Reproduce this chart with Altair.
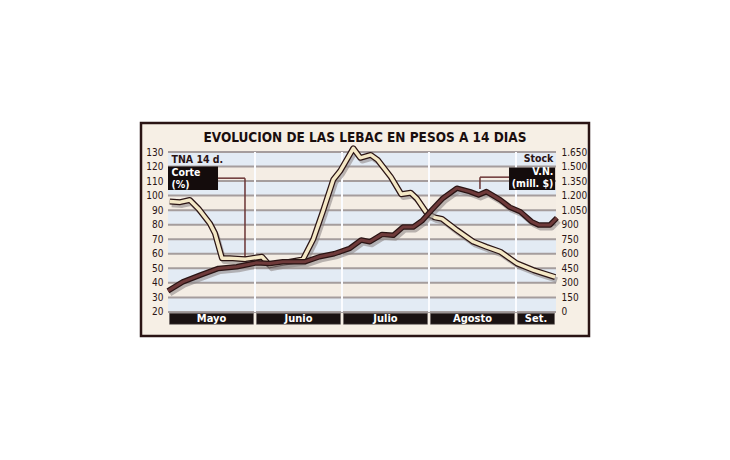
import altair as alt
import pandas as pd

# months along the bottom (x is measured in months from 1 May)
months = ["Mayo", "Junio", "Julio", "Agosto", "Set."]
month_start = [0, 1, 2, 3, 4]
month_end = [1, 2, 3, 4, 4.46]

# TNA 14 d. corte (%) - left axis
tna_x = [0.02, 0.14, 0.25, 0.35, 0.48, 0.54, 0.62, 0.71, 0.89, 1.08, 1.17, 1.29,
         1.55, 1.67, 1.78, 1.90, 1.98, 2.13, 2.21, 2.33, 2.41, 2.56, 2.68, 2.79,
         2.86, 2.98, 3.07, 3.15, 3.32, 3.51, 3.66, 3.82, 4.01, 4.20, 4.45]
tna_y = [96, 95.5, 97, 91, 81, 74, 57, 57, 56.3, 58, 52, 53.4,
         56, 70, 89, 111, 117, 132.5, 126, 128, 124.6, 113, 101, 102,
         98, 87.5, 85, 84, 76.3, 68.3, 64.8, 61.4, 53.4, 48.8, 44]

# Stock V.N. (mill. $) - right axis
stock_x = [0.0, 0.17, 0.37, 0.58, 0.79, 1.02, 1.17, 1.32, 1.57, 1.74, 1.91, 2.09,
           2.22, 2.32, 2.46, 2.59, 2.70, 2.82, 2.92, 3.03, 3.16, 3.32, 3.47, 3.57,
           3.66, 3.82, 3.93, 4.05, 4.18, 4.26, 4.39, 4.47]
stock_y = [217, 310, 380, 449, 466, 507, 500, 517, 517, 569, 600, 656,
           742, 724, 800, 790, 876, 876, 940, 1050, 1173, 1277, 1241, 1207,
           1241, 1156, 1080, 1034, 931, 897, 897, 970]

left_ticks = list(range(20, 140, 10))
right_ticks = list(range(0, 1800, 150))

W, H = 388, 173
X_END = 4.46
FONT = "Liberation Sans Narrow, DejaVu Sans Condensed, Liberation Sans, sans-serif"
DARK = "#2a1414"
CREAM = "#f6efe5"

xs = alt.Scale(domain=[0, X_END], nice=False, zero=False)
ys = alt.Scale(domain=[11, 130], nice=False, zero=False)
ys_right = alt.Scale(domain=[-135, 1650], nice=False, zero=False)

# every y encoding of a group carries the same axis, so the layers merge into one axis
LEFT_AXIS = alt.Axis(
    values=left_ticks, title=None, domain=False, ticks=False, grid=False, zindex=1,
    labelFont=FONT, labelFontSize=10, labelColor=DARK, labelPadding=5,
)
RIGHT_AXIS = alt.Axis(
    orient="right", values=right_ticks, title=None, domain=False, ticks=False, grid=False,
    zindex=1, labelFont=FONT, labelFontSize=10, labelColor=DARK, labelPadding=5,
    labelExpr="replace(format(datum.value, ','), ',', '.')",
)

one = pd.DataFrame({"k": [0]})
tna = pd.DataFrame({"m": tna_x, "v": tna_y})
stock = pd.DataFrame({"m": stock_x, "s": stock_y})
month_df = pd.DataFrame({"mes": months, "a": month_start, "b": month_end})
bands = pd.DataFrame({
    "lo": left_ticks[:-1],
    "hi": left_ticks[1:],
    "blue": [(len(left_ticks) - 2 - i) % 2 == 0 for i in range(len(left_ticks) - 1)],
})
grid = pd.DataFrame({"v": left_ticks})
seps = pd.DataFrame({"m": month_start[1:]})


def xd(v):
    return alt.XDatum(v, type="quantitative", scale=xs, axis=None)


def yd(v):
    return alt.YDatum(v, type="quantitative", scale=ys, axis=LEFT_AXIS)


def yf(field):
    return alt.Y(field, type="quantitative", scale=ys, axis=LEFT_AXIS)


frame = alt.Chart(one).mark_rect(fill=CREAM, stroke=DARK, strokeWidth=2.5).encode(
    x=alt.value(-27), x2=alt.value(W + 33), y=alt.value(-29), y2=alt.value(H + 11)
)

band_layer = alt.Chart(bands).mark_rect().encode(
    x=xd(0), x2=alt.X2Datum(X_END),
    y=yf("lo"), y2="hi:Q",
    color=alt.condition("datum.blue", alt.value("#e3ebf4"), alt.value("#f4ede4")),
)

grid_layer = alt.Chart(grid).mark_rule(color="#a59d9d", strokeWidth=2).encode(
    x=xd(0), x2=alt.X2Datum(X_END), y=yf("v"),
)

sep_layer = alt.Chart(seps).mark_rule(color="#fbfcff", strokeWidth=2).encode(
    x=alt.X("m:Q", scale=xs, axis=None), y=yd(20), y2=alt.Y2Datum(130),
)

month_bars = alt.Chart(month_df).mark_rect(
    fill="#1a1212", stroke="#6a6262", strokeWidth=0.6, xOffset=1.5, x2Offset=-1.5
).encode(
    x=alt.X("a:Q", scale=xs, axis=None), x2="b:Q", y=yd(19.1), y2=alt.Y2Datum(11.5),
)

month_text = alt.Chart(month_df).transform_calculate(
    mid="(datum.a + datum.b) / 2"
).mark_text(font=FONT, fontSize=11, fontWeight="bold", color="white", baseline="middle").encode(
    x=alt.X("mid:Q", scale=xs, axis=None), y=yd(15.3), text="mes:N",
)

corte_box = alt.Chart(one).mark_rect(fill="#140c0c").encode(
    x=xd(0), x2=alt.X2Datum(0.575), y=yd(120), y2=alt.Y2Datum(103.9),
)
vn_box = alt.Chart(one).mark_rect(fill="#140c0c").encode(
    x=xd(3.92), x2=alt.X2Datum(X_END - 0.01), y=yd(119.3), y2=alt.Y2Datum(103.9),
)

LEAD = "#6a3434"
lead1 = alt.Chart(one).mark_rule(color=LEAD, strokeWidth=1.5).encode(
    x=xd(0.575), x2=alt.X2Datum(0.885), y=yd(112),
)
lead2 = alt.Chart(one).mark_rule(color=LEAD, strokeWidth=1.5).encode(
    x=xd(0.885), y=yd(112), y2=alt.Y2Datum(57.5),
)
lead3 = alt.Chart(one).mark_rule(color=LEAD, strokeWidth=1.5).encode(
    x=xd(3.586), x2=alt.X2Datum(3.92), y=yd(112.7),
)
lead4 = alt.Chart(one).mark_rule(color=LEAD, strokeWidth=1.5).encode(
    x=xd(3.586), y=yd(112.7), y2=alt.Y2Datum(104.5),
)


def label(text, x, y, align="left", color=DARK, size=10.5):
    return alt.Chart(one).mark_text(
        text=text, font=FONT, fontSize=size, fontWeight="bold", color=color,
        align=align, baseline="middle",
    ).encode(x=xd(x), y=yd(y))


labels = [
    label("TNA 14 d.", 0.04, 124.8),
    label("Stock", 4.43, 125.3, align="right"),
    label("Corte", 0.04, 115.3, color="white"),
    label("(%)", 0.04, 107.6, color="white"),
    label("V.N.", 4.43, 116.2, align="right", color="white"),
    label("(mill. $)", 4.43, 108.2, align="right", color="white"),
]

# title drawn inside the frame
title = alt.Chart(one).mark_text(
    text="EVOLUCION DE LAS LEBAC EN PESOS A 14 DIAS", font=FONT, fontSize=13.5,
    fontWeight="bold", color="#1a0e0e", align="center", baseline="middle",
).encode(x=xd(2.264), y=yd(139.8))

tna_enc = dict(x=alt.X("m:Q", scale=xs, axis=None), y=yf("v"))
tna_shadow = alt.Chart(tna).mark_line(
    color="#8f8888", opacity=0.6, strokeWidth=5.5, xOffset=2, yOffset=3, strokeJoin="round"
).encode(**tna_enc)
tna_edge = alt.Chart(tna).mark_line(color=DARK, strokeWidth=6, strokeJoin="round").encode(**tna_enc)
tna_fill = alt.Chart(tna).mark_line(color="#f4e8c6", strokeWidth=3.5, strokeJoin="round").encode(**tna_enc)

left_group = alt.layer(
    frame, band_layer, grid_layer, sep_layer, month_bars, month_text,
    lead1, lead2, lead3, lead4, corte_box, vn_box, *labels, title,
    tna_shadow, tna_edge, tna_fill,
)

st_enc = dict(
    x=alt.X("m:Q", scale=xs, axis=None),
    y=alt.Y("s:Q", scale=ys_right, axis=RIGHT_AXIS),
)
st_shadow = alt.Chart(stock).mark_line(
    color="#8f8888", opacity=0.6, strokeWidth=5, xOffset=2, yOffset=3, strokeJoin="round"
).encode(**st_enc)
st_edge = alt.Chart(stock).mark_line(color=DARK, strokeWidth=5.5, strokeJoin="round").encode(**st_enc)
st_fill = alt.Chart(stock).mark_line(color="#6e3a3a", strokeWidth=3, strokeJoin="round").encode(**st_enc)
right_group = alt.layer(st_shadow, st_edge, st_fill)

chart = (
    alt.layer(left_group, right_group)
    .resolve_scale(y="independent")
    .properties(
        width=W, height=H,
        autosize=alt.AutoSizeParams(type="none"),
        padding={"left": 160, "top": 144, "right": 160, "bottom": 100},
        background="white",
    )
    .configure_view(stroke=None)
)

chart.save("out.html", embed_options={"renderer": "svg", "actions": False})
